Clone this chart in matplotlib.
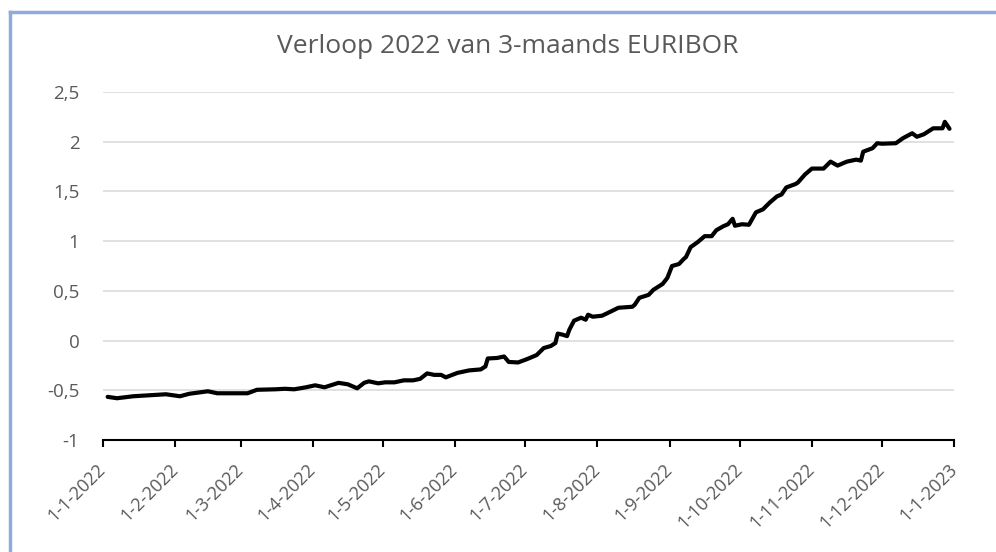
import matplotlib
matplotlib.use("Agg")
import matplotlib.pyplot as plt
from matplotlib.lines import Line2D
import pandas as pd

# 3-maands EURIBOR 2022
datums = [
    "2022-01-03", "2022-01-07", "2022-01-14", "2022-01-21", "2022-01-28",
    "2022-02-03", "2022-02-07", "2022-02-15", "2022-02-19", "2022-02-26",
    "2022-03-04", "2022-03-08", "2022-03-16", "2022-03-20", "2022-03-24",
    "2022-03-29", "2022-04-02", "2022-04-06", "2022-04-12", "2022-04-16",
    "2022-04-20", "2022-04-23", "2022-04-25", "2022-04-29", "2022-05-02",
    "2022-05-06", "2022-05-10", "2022-05-14", "2022-05-17", "2022-05-20",
    "2022-05-23", "2022-05-26", "2022-05-28", "2022-06-02", "2022-06-07",
    "2022-06-12", "2022-06-14", "2022-06-15", "2022-06-19", "2022-06-22",
    "2022-06-24", "2022-06-28", "2022-07-02", "2022-07-06", "2022-07-09",
    "2022-07-12", "2022-07-14", "2022-07-15", "2022-07-17", "2022-07-19",
    "2022-07-20", "2022-07-22", "2022-07-25", "2022-07-27", "2022-07-28",
    "2022-07-30", "2022-08-03", "2022-08-07", "2022-08-10", "2022-08-13",
    "2022-08-16", "2022-08-17", "2022-08-19", "2022-08-23", "2022-08-25",
    "2022-08-29", "2022-08-31", "2022-09-02", "2022-09-05", "2022-09-07",
    "2022-09-08", "2022-09-10", "2022-09-13", "2022-09-16", "2022-09-19",
    "2022-09-21", "2022-09-24", "2022-09-26", "2022-09-28", "2022-09-29",
    "2022-10-02", "2022-10-05", "2022-10-08", "2022-10-11", "2022-10-14",
    "2022-10-17", "2022-10-19", "2022-10-21", "2022-10-25", "2022-10-26",
    "2022-10-29", "2022-11-01", "2022-11-06", "2022-11-09", "2022-11-12",
    "2022-11-16", "2022-11-20", "2022-11-22", "2022-11-23", "2022-11-27",
    "2022-11-29", "2022-12-01", "2022-12-07", "2022-12-10", "2022-12-14",
    "2022-12-16", "2022-12-19", "2022-12-23", "2022-12-27", "2022-12-28",
    "2022-12-30",
]
euribor = [
    -0.566, -0.58, -0.56, -0.55, -0.54,
    -0.56, -0.535, -0.51, -0.53, -0.53,
    -0.53, -0.495, -0.49, -0.485, -0.49,
    -0.47, -0.45, -0.47, -0.425, -0.44,
    -0.48, -0.425, -0.41, -0.43, -0.42,
    -0.42, -0.40, -0.40, -0.385, -0.33,
    -0.345, -0.345, -0.37, -0.325, -0.30,
    -0.29, -0.26, -0.18, -0.175, -0.16,
    -0.215, -0.22, -0.185, -0.145, -0.075,
    -0.055, -0.025, 0.07, 0.06, 0.045,
    0.11, 0.20, 0.23, 0.21, 0.26,
    0.24, 0.25, 0.295, 0.33, 0.335,
    0.34, 0.36, 0.43, 0.46, 0.51,
    0.57, 0.63, 0.75, 0.77, 0.82,
    0.84, 0.94, 0.99, 1.05, 1.05,
    1.11, 1.15, 1.17, 1.225, 1.155,
    1.17, 1.165, 1.29, 1.32, 1.39,
    1.45, 1.47, 1.54, 1.575, 1.59,
    1.67, 1.73, 1.73, 1.80, 1.76,
    1.80, 1.82, 1.81, 1.90, 1.935,
    1.985, 1.98, 1.985, 2.035, 2.085,
    2.05, 2.075, 2.135, 2.135, 2.20,
    2.13,
]
maand_ticks = pd.date_range("2022-01-01", "2023-01-01", freq="MS")
maand_labels = ["1-1-2022", "1-2-2022", "1-3-2022", "1-4-2022", "1-5-2022",
                "1-6-2022", "1-7-2022", "1-8-2022", "1-9-2022", "1-10-2022",
                "1-11-2022", "1-12-2022", "1-1-2023"]
y_ticks = [-1, -0.5, 0, 0.5, 1, 1.5, 2, 2.5]
y_labels = ["-1", "-0,5", "0", "0,5", "1", "1,5", "2", "2,5"]

grijs = "#595959"
plt.rcParams["font.family"] = ["Open Sans", "DejaVu Sans"]

fig = plt.figure(figsize=(9.96, 5.52), dpi=100)
ax = fig.add_axes([0.1034, 0.2029, 0.8546, 0.6304])

ax.plot(pd.to_datetime(datums), euribor, color="black", lw=3,
        solid_joinstyle="round", solid_capstyle="round", zorder=3)

ax.set_xlim(maand_ticks[0], maand_ticks[-1])
ax.set_ylim(-1, 2.5)
ax.set_yticks(y_ticks)
ax.set_yticklabels(y_labels)
ax.set_xticks(maand_ticks)
ax.set_xticklabels(maand_labels, rotation=45, ha="right", va="center",
                   rotation_mode="anchor")

ax.grid(axis="y", color="#D9D9D9", lw=1.1)
ax.set_axisbelow(True)
for s in ["left", "right", "top"]:
    ax.spines[s].set_visible(False)
ax.spines["bottom"].set_color("black")
ax.spines["bottom"].set_linewidth(1.5)
ax.tick_params(axis="y", length=0, pad=17, labelsize=13.5, labelcolor=grijs)
ax.tick_params(axis="x", length=5, width=1.5, direction="out", pad=14,
               labelsize=13, labelcolor=grijs)

fig.text(0.51, 0.915, "Verloop 2022 van 3-maands EURIBOR", ha="center",
         va="center", fontsize=19, color=grijs)

# lichtblauwe rand van het grafiekvlak
rand = "#8FAADC"
fig.add_artist(Line2D([0.0105, 0.0105], [0.0, 0.978], color=rand, lw=2.5,
                      transform=fig.transFigure))
fig.add_artist(Line2D([0.0105, 1.0], [0.978, 0.978], color=rand, lw=2.5,
                      transform=fig.transFigure))

fig.savefig("out.png", dpi=100)
